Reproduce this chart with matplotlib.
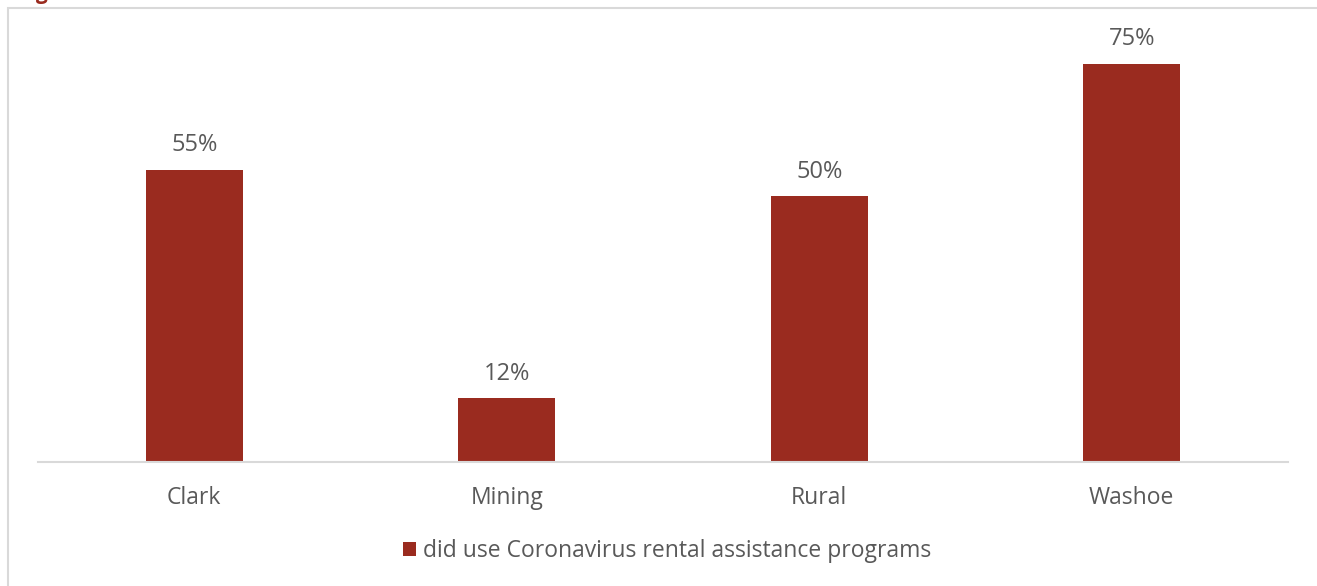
import matplotlib
matplotlib.use("Agg")
import matplotlib.pyplot as plt
from matplotlib.patches import Rectangle

categories = ["Clark", "Mining", "Rural", "Washoe"]
shares = [55, 12, 50, 75]
series_name = "did use Coronavirus rental assistance programs"

W, H = 1317, 586
BAR_COLOR = "#9A2B1F"
TEXT_COLOR = "#595959"
GRID_COLOR = "#D9D9D9"
FONT = ["Open Sans", "DejaVu Sans"]
FS = 16.5

fig = plt.figure(figsize=(W / 100, H / 100), dpi=100)

# chart frame, running off the right and bottom edges
fig.add_artist(Rectangle((8 / W, -0.05), 1.2, (H - 8) / H + 0.05,
                         transform=fig.transFigure, fill=False,
                         edgecolor=GRID_COLOR, linewidth=1.5))

# title, clipped by the top edge
fig.text(18 / W, 1 + 1 / H, "Figure", color="#9A2B1F", fontsize=15,
         fontweight="bold", family=FONT, va="baseline", ha="left")

left, right = 38 / W, 1288 / W
bottom, top = (H - 462) / H, (H - 37) / H
ax = fig.add_axes([left, bottom, right - left, top - bottom])

x = range(len(categories))
bars = ax.bar(x, shares, width=0.31, color=BAR_COLOR, zorder=2)
ax.set_xlim(-0.5, len(categories) - 0.5)
ax.set_ylim(0, 80)

for rect, v in zip(bars, shares):
    ax.annotate(f"{v}%", (rect.get_x() + rect.get_width() / 2, v),
                xytext=(0, 9), textcoords="offset points",
                ha="center", va="bottom", fontsize=FS + 0.5, color=TEXT_COLOR,
                family=FONT, annotation_clip=False)

ax.set_xticks(list(x))
ax.set_xticklabels(categories, fontsize=FS, color=TEXT_COLOR, family=FONT)
ax.tick_params(axis="x", length=0, pad=17)
ax.set_yticks([])
for s in ["top", "right", "left"]:
    ax.spines[s].set_visible(False)
ax.spines["bottom"].set_color(GRID_COLOR)
ax.spines["bottom"].set_linewidth(1.5)
ax.patch.set_alpha(0)

leg = fig.legend([bars[0]], [series_name], loc="center",
                 bbox_to_anchor=(667 / W, 1 - 551 / H), frameon=False,
                 prop={"family": FONT, "size": FS}, handlelength=0.6,
                 handleheight=0.6, handletextpad=0.3)
for t in leg.get_texts():
    t.set_color(TEXT_COLOR)

fig.savefig("out.png", dpi=100)
